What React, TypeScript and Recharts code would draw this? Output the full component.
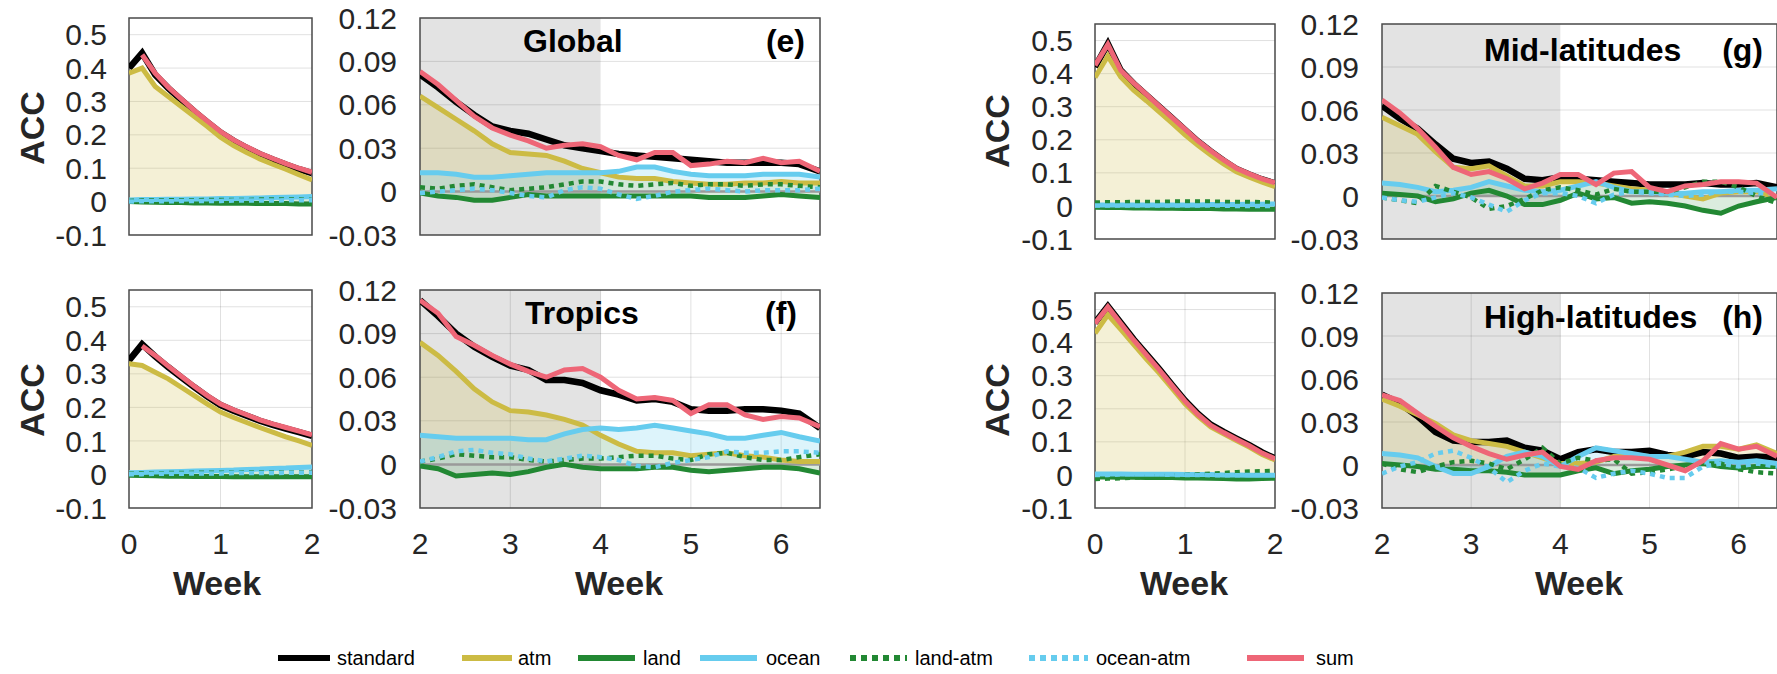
import React from 'react';
import { ComposedChart, Line, Area, XAxis, YAxis, CartesianGrid, ReferenceArea, ReferenceLine } from 'recharts';

const FONT = '"Liberation Sans", Arial, Helvetica, sans-serif';

// ---------- axes ----------
const LEFT_WEEKS = [0, 0.143, 0.286, 0.429, 0.571, 0.714, 0.857, 1.0, 1.143, 1.286, 1.429, 1.571, 1.714, 1.857, 2.0];
const RIGHT_WEEKS = [2.0, 2.2, 2.4, 2.6, 2.8, 3.0, 3.2, 3.4, 3.6, 3.8, 4.0, 4.2, 4.4, 4.6, 4.8, 5.0, 5.2, 5.4, 5.6, 5.8, 6.0, 6.2, 6.43];
const LEFT_X_TICKS = [0, 1, 2];
const RIGHT_X_TICKS = [2, 3, 4, 5, 6];
const LEFT_Y_TICKS = [-0.1, 0, 0.1, 0.2, 0.3, 0.4, 0.5];
const RIGHT_Y_TICKS = [-0.03, 0, 0.03, 0.06, 0.09, 0.12];
const LEFT_X_DOMAIN = [0, 2];
const RIGHT_X_DOMAIN = [2, 6.43];
const LEFT_Y_DOMAIN = [-0.1, 0.55];
const RIGHT_Y_DOMAIN = [-0.03, 0.12];
const SHADE_WEEKS = [2, 4];

const SERIES_NAMES = ['standard', 'atm', 'land', 'ocean', 'land-atm', 'ocean-atm', 'sum'];
const KEYS = ['standard', 'atm', 'land', 'ocean', 'landAtm', 'oceanAtm', 'sum'];
const COLORS = ['#000000', '#CCBB44', '#228833', '#66CCEE', '#228833', '#66CCEE', '#EE6677'];

// ---------- Global ----------
const GLOBAL_L_STANDARD = [0.400, 0.445, 0.380, 0.340, 0.305, 0.270, 0.238, 0.207, 0.182, 0.161, 0.142, 0.126, 0.111, 0.097, 0.085];
const GLOBAL_L_ATM = [0.385, 0.400, 0.345, 0.315, 0.285, 0.255, 0.225, 0.193, 0.168, 0.147, 0.128, 0.112, 0.097, 0.081, 0.065];
const GLOBAL_L_LAND = [0.000, -0.001, -0.002, -0.003, -0.003, -0.004, -0.004, -0.005, -0.005, -0.005, -0.006, -0.006, -0.006, -0.007, -0.007];
const GLOBAL_L_OCEAN = [0.005, 0.006, 0.006, 0.007, 0.007, 0.008, 0.008, 0.009, 0.009, 0.010, 0.011, 0.012, 0.013, 0.014, 0.015];
const GLOBAL_L_LANDATM = [0.002, 0.003, 0.003, 0.004, 0.004, 0.004, 0.005, 0.005, 0.005, 0.005, 0.006, 0.006, 0.006, 0.006, 0.005];
const GLOBAL_L_OCEANATM = [0.000, 0.001, 0.001, 0.001, 0.002, 0.002, 0.002, 0.002, 0.003, 0.003, 0.003, 0.003, 0.004, 0.004, 0.004];
const GLOBAL_L_SUM = [null, 0.440, 0.385, 0.343, 0.308, 0.273, 0.241, 0.210, 0.185, 0.164, 0.145, 0.129, 0.114, 0.100, 0.088];

const GLOBAL_R_STANDARD = [0.081, 0.072, 0.062, 0.053, 0.045, 0.042, 0.040, 0.036, 0.032, 0.030, 0.028, 0.026, 0.025, 0.024, 0.023, 0.022, 0.021, 0.020, 0.020, 0.020, 0.020, 0.019, 0.014];
const GLOBAL_R_ATM = [0.066, 0.058, 0.050, 0.042, 0.033, 0.027, 0.026, 0.025, 0.021, 0.016, 0.013, 0.010, 0.009, 0.009, 0.007, 0.006, 0.005, 0.005, 0.006, 0.006, 0.007, 0.006, 0.006];
const GLOBAL_R_LAND = [-0.001, -0.003, -0.004, -0.006, -0.006, -0.004, -0.002, -0.003, -0.003, -0.003, -0.003, -0.003, -0.003, -0.003, -0.003, -0.003, -0.004, -0.004, -0.004, -0.003, -0.002, -0.003, -0.004];
const GLOBAL_R_OCEAN = [0.013, 0.013, 0.012, 0.010, 0.010, 0.011, 0.012, 0.013, 0.013, 0.013, 0.013, 0.014, 0.017, 0.017, 0.014, 0.012, 0.011, 0.011, 0.011, 0.012, 0.012, 0.012, 0.010];
const GLOBAL_R_LANDATM = [0.003, 0.002, 0.004, 0.005, 0.003, 0.001, 0.002, 0.003, 0.005, 0.007, 0.007, 0.005, 0.004, 0.005, 0.006, 0.004, 0.005, 0.005, 0.004, 0.005, 0.005, 0.004, 0.003];
const GLOBAL_R_OCEANATM = [-0.001, 0.000, 0.001, 0.002, 0.001, -0.001, -0.003, -0.004, 0.001, 0.003, 0.002, -0.002, -0.005, -0.003, 0.000, 0.001, 0.002, 0.001, 0.000, 0.001, 0.001, 0.001, 0.002];
const GLOBAL_R_SUM = [0.083, 0.074, 0.063, 0.052, 0.044, 0.039, 0.035, 0.030, 0.032, 0.033, 0.031, 0.025, 0.022, 0.027, 0.027, 0.018, 0.019, 0.021, 0.020, 0.023, 0.020, 0.021, 0.014];

// ---------- Tropics ----------
const TROPICS_L_STANDARD = [0.340, 0.388, 0.352, 0.320, 0.290, 0.260, 0.232, 0.207, 0.190, 0.175, 0.160, 0.148, 0.137, 0.126, 0.115];
const TROPICS_L_ATM = [0.330, 0.325, 0.305, 0.285, 0.260, 0.235, 0.210, 0.186, 0.170, 0.155, 0.140, 0.126, 0.112, 0.100, 0.087];
const TROPICS_L_LAND = [-0.002, -0.003, -0.004, -0.005, -0.005, -0.006, -0.006, -0.006, -0.007, -0.007, -0.007, -0.007, -0.007, -0.007, -0.007];
const TROPICS_L_OCEAN = [0.005, 0.006, 0.007, 0.008, 0.009, 0.010, 0.011, 0.012, 0.013, 0.015, 0.016, 0.018, 0.019, 0.021, 0.022];
const TROPICS_L_LANDATM = [0.002, 0.003, 0.003, 0.004, 0.004, 0.005, 0.005, 0.005, 0.005, 0.006, 0.006, 0.006, 0.006, 0.006, 0.006];
const TROPICS_L_OCEANATM = [0.001, 0.001, 0.002, 0.002, 0.002, 0.003, 0.003, 0.003, 0.004, 0.004, 0.004, 0.004, 0.005, 0.005, 0.005];
const TROPICS_L_SUM = [null, 0.383, 0.355, 0.323, 0.293, 0.263, 0.235, 0.210, 0.193, 0.178, 0.163, 0.151, 0.140, 0.129, 0.118];

const TROPICS_R_STANDARD = [0.113, 0.102, 0.090, 0.081, 0.074, 0.068, 0.065, 0.058, 0.058, 0.056, 0.051, 0.048, 0.044, 0.045, 0.043, 0.038, 0.037, 0.037, 0.038, 0.038, 0.037, 0.035, 0.025];
const TROPICS_R_ATM = [0.084, 0.075, 0.064, 0.052, 0.043, 0.037, 0.036, 0.034, 0.031, 0.027, 0.020, 0.014, 0.009, 0.008, 0.008, 0.006, 0.007, 0.008, 0.006, 0.005, 0.003, 0.002, 0.002];
const TROPICS_R_LAND = [-0.001, -0.003, -0.008, -0.007, -0.006, -0.007, -0.005, -0.002, 0.000, -0.002, -0.003, -0.003, -0.003, -0.002, -0.002, -0.004, -0.005, -0.004, -0.003, -0.002, -0.002, -0.003, -0.006];
const TROPICS_R_OCEAN = [0.020, 0.019, 0.018, 0.018, 0.018, 0.018, 0.017, 0.017, 0.021, 0.024, 0.025, 0.024, 0.025, 0.027, 0.025, 0.023, 0.021, 0.018, 0.018, 0.020, 0.022, 0.019, 0.016];
const TROPICS_R_LANDATM = [0.002, 0.004, 0.007, 0.006, 0.005, 0.005, 0.003, 0.002, 0.003, 0.004, 0.004, 0.005, 0.006, 0.006, 0.004, 0.003, 0.007, 0.008, 0.005, 0.003, 0.003, 0.005, 0.007];
const TROPICS_R_OCEANATM = [0.002, 0.005, 0.009, 0.010, 0.008, 0.007, 0.004, 0.002, 0.004, 0.006, 0.005, 0.003, -0.001, -0.002, 0.001, 0.003, 0.005, 0.009, 0.008, 0.008, 0.009, 0.009, 0.008];
const TROPICS_R_SUM = [0.113, 0.104, 0.088, 0.082, 0.075, 0.069, 0.064, 0.060, 0.065, 0.066, 0.060, 0.051, 0.045, 0.046, 0.044, 0.035, 0.041, 0.041, 0.034, 0.031, 0.033, 0.032, 0.026];

// ---------- Mid-latitudes ----------
const MID_L_STANDARD = [0.420, 0.490, 0.410, 0.370, 0.335, 0.300, 0.265, 0.230, 0.195, 0.165, 0.137, 0.112, 0.095, 0.080, 0.068];
const MID_L_ATM = [0.388, 0.453, 0.390, 0.350, 0.318, 0.284, 0.250, 0.215, 0.183, 0.154, 0.127, 0.103, 0.087, 0.072, 0.058];
const MID_L_LAND = [-0.004, -0.005, -0.005, -0.006, -0.006, -0.007, -0.007, -0.008, -0.008, -0.008, -0.009, -0.009, -0.010, -0.010, -0.010];
const MID_L_OCEAN = [0.003, 0.003, 0.003, 0.003, 0.003, 0.003, 0.003, 0.003, 0.003, 0.004, 0.004, 0.004, 0.005, 0.005, 0.006];
const MID_L_LANDATM = [0.010, 0.011, 0.011, 0.012, 0.012, 0.012, 0.013, 0.013, 0.013, 0.013, 0.012, 0.012, 0.012, 0.011, 0.010];
const MID_L_OCEANATM = [0.001, 0.001, 0.001, 0.001, 0.001, 0.001, 0.001, 0.001, 0.001, 0.001, 0.001, 0.000, 0.000, 0.000, 0.000];
const MID_L_SUM = [0.425, 0.488, 0.410, 0.372, 0.337, 0.302, 0.267, 0.232, 0.197, 0.167, 0.139, 0.114, 0.097, 0.082, 0.070];

const MID_R_STANDARD = [0.063, 0.054, 0.047, 0.036, 0.026, 0.023, 0.024, 0.019, 0.012, 0.011, 0.013, 0.012, 0.011, 0.010, 0.009, 0.008, 0.008, 0.008, 0.009, 0.008, 0.008, 0.009, 0.006];
const MID_R_ATM = [0.055, 0.049, 0.043, 0.031, 0.020, 0.019, 0.021, 0.014, 0.007, 0.007, 0.010, 0.010, 0.009, 0.007, 0.005, 0.004, 0.002, 0.000, -0.002, 0.002, 0.003, 0.003, -0.001];
const MID_R_LAND = [0.002, 0.001, 0.000, -0.004, -0.002, 0.002, 0.004, 0.000, -0.006, -0.006, -0.003, 0.002, -0.002, -0.001, -0.005, -0.004, -0.005, -0.007, -0.010, -0.012, -0.007, -0.004, -0.001];
const MID_R_OCEAN = [0.009, 0.008, 0.006, 0.003, 0.004, 0.006, 0.010, 0.007, 0.004, 0.003, 0.004, 0.007, 0.010, 0.006, 0.003, 0.003, 0.002, 0.002, 0.003, 0.003, 0.004, 0.004, 0.005];
const MID_R_LANDATM = [-0.001, -0.003, -0.005, 0.007, 0.003, -0.001, -0.009, -0.007, -0.002, 0.004, 0.006, 0.004, 0.001, 0.005, 0.003, 0.003, 0.003, 0.006, 0.010, 0.010, 0.006, 0.000, -0.005];
const MID_R_OCEANATM = [-0.001, -0.003, -0.004, -0.001, 0.002, -0.001, -0.006, -0.011, -0.003, 0.002, 0.002, 0.000, -0.005, 0.001, 0.003, 0.002, 0.001, 0.000, 0.001, 0.003, 0.003, 0.002, 0.002];
const MID_R_SUM = [0.067, 0.058, 0.047, 0.034, 0.020, 0.015, 0.017, 0.012, 0.005, 0.009, 0.015, 0.015, 0.008, 0.016, 0.017, 0.006, 0.003, 0.007, 0.008, 0.010, 0.010, 0.009, -0.001];

// ---------- High-latitudes ----------
const HIGH_L_STANDARD = [0.460, 0.510, 0.460, 0.410, 0.365, 0.320, 0.272, 0.225, 0.185, 0.152, 0.130, 0.110, 0.090, 0.068, 0.050];
const HIGH_L_ATM = [0.428, 0.484, 0.440, 0.395, 0.350, 0.308, 0.262, 0.215, 0.178, 0.145, 0.124, 0.104, 0.084, 0.062, 0.045];
const HIGH_L_LAND = [-0.006, -0.006, -0.007, -0.007, -0.008, -0.008, -0.008, -0.009, -0.009, -0.010, -0.011, -0.012, -0.012, -0.011, -0.010];
const HIGH_L_OCEAN = [0.003, 0.003, 0.003, 0.002, 0.002, 0.002, 0.002, 0.001, 0.001, 0.001, 0.000, 0.000, -0.001, -0.001, -0.001];
const HIGH_L_LANDATM = [-0.012, -0.011, -0.010, -0.008, -0.006, -0.004, -0.002, 0.000, 0.002, 0.004, 0.006, 0.008, 0.010, 0.011, 0.012];
const HIGH_L_OCEANATM = [0.000, 0.000, 0.001, 0.001, 0.001, 0.001, 0.000, 0.000, 0.000, -0.001, -0.001, -0.001, 0.000, 0.000, 0.000];
const HIGH_L_SUM = [0.458, 0.508, 0.458, 0.408, 0.363, 0.318, 0.270, 0.223, 0.183, 0.150, 0.128, 0.108, 0.088, 0.066, 0.049];

const HIGH_R_STANDARD = [0.049, 0.043, 0.034, 0.023, 0.017, 0.016, 0.016, 0.017, 0.012, 0.010, 0.004, 0.009, 0.011, 0.009, 0.009, 0.010, 0.007, 0.006, 0.009, 0.008, 0.005, 0.006, 0.005];
const HIGH_R_ATM = [0.046, 0.041, 0.035, 0.029, 0.021, 0.017, 0.015, 0.013, 0.009, 0.005, 0.001, 0.001, 0.002, 0.006, 0.007, 0.006, 0.006, 0.009, 0.013, 0.013, 0.011, 0.014, 0.008];
const HIGH_R_LAND = [0.001, 0.000, -0.001, -0.003, -0.003, -0.004, -0.004, -0.005, -0.007, -0.007, -0.007, -0.004, -0.002, -0.006, -0.004, -0.003, -0.001, 0.000, 0.001, -0.001, -0.002, -0.001, -0.001];
const HIGH_R_OCEAN = [0.008, 0.007, 0.005, -0.001, -0.006, -0.006, -0.001, 0.006, 0.009, 0.006, -0.001, 0.006, 0.012, 0.010, 0.008, 0.006, 0.006, 0.004, 0.002, 0.003, 0.002, 0.003, 0.001];
const HIGH_R_LANDATM = [0.001, -0.003, -0.005, -0.001, 0.002, 0.003, 0.001, -0.003, 0.004, 0.012, 0.001, 0.005, 0.003, 0.004, -0.006, -0.005, -0.003, -0.001, 0.001, 0.001, -0.003, -0.005, -0.006];
const HIGH_R_OCEANATM = [-0.006, -0.001, 0.002, 0.008, 0.010, 0.005, -0.002, -0.012, -0.004, 0.001, -0.001, -0.002, -0.009, -0.006, -0.004, -0.006, -0.009, -0.009, -0.001, 0.001, -0.001, 0.001, -0.001];
const HIGH_R_SUM = [0.049, 0.045, 0.036, 0.027, 0.019, 0.013, 0.008, 0.004, 0.007, 0.009, -0.001, -0.003, 0.003, 0.005, 0.005, 0.004, 0.000, -0.004, 0.003, 0.015, 0.011, 0.013, 0.006];

// ---------- table builder ----------
function rows(weeks: number[], cols: (number | null)[][]) {
  return weeks.map((w, i) => {
    const r: any = { w };
    KEYS.forEach((k, j) => { r[k] = cols[j][i]; });
    return r;
  });
}

const DATA = {
  globalL: rows(LEFT_WEEKS, [GLOBAL_L_STANDARD, GLOBAL_L_ATM, GLOBAL_L_LAND, GLOBAL_L_OCEAN, GLOBAL_L_LANDATM, GLOBAL_L_OCEANATM, GLOBAL_L_SUM]),
  globalR: rows(RIGHT_WEEKS, [GLOBAL_R_STANDARD, GLOBAL_R_ATM, GLOBAL_R_LAND, GLOBAL_R_OCEAN, GLOBAL_R_LANDATM, GLOBAL_R_OCEANATM, GLOBAL_R_SUM]),
  tropicsL: rows(LEFT_WEEKS, [TROPICS_L_STANDARD, TROPICS_L_ATM, TROPICS_L_LAND, TROPICS_L_OCEAN, TROPICS_L_LANDATM, TROPICS_L_OCEANATM, TROPICS_L_SUM]),
  tropicsR: rows(RIGHT_WEEKS, [TROPICS_R_STANDARD, TROPICS_R_ATM, TROPICS_R_LAND, TROPICS_R_OCEAN, TROPICS_R_LANDATM, TROPICS_R_OCEANATM, TROPICS_R_SUM]),
  midL: rows(LEFT_WEEKS, [MID_L_STANDARD, MID_L_ATM, MID_L_LAND, MID_L_OCEAN, MID_L_LANDATM, MID_L_OCEANATM, MID_L_SUM]),
  midR: rows(RIGHT_WEEKS, [MID_R_STANDARD, MID_R_ATM, MID_R_LAND, MID_R_OCEAN, MID_R_LANDATM, MID_R_OCEANATM, MID_R_SUM]),
  highL: rows(LEFT_WEEKS, [HIGH_L_STANDARD, HIGH_L_ATM, HIGH_L_LAND, HIGH_L_OCEAN, HIGH_L_LANDATM, HIGH_L_OCEANATM, HIGH_L_SUM]),
  highR: rows(RIGHT_WEEKS, [HIGH_R_STANDARD, HIGH_R_ATM, HIGH_R_LAND, HIGH_R_OCEAN, HIGH_R_LANDATM, HIGH_R_OCEANATM, HIGH_R_SUM]),
};

const TICK_STYLE = { fontSize: 30, fill: '#262626', fontFamily: FONT };

function Panel({ x, y, w, h, data, side, showX }: any) {
  const left = side === 'L';
  const yW = 110;
  const mT = 22;
  const mR = 22;
  const mB = showX ? 0 : 22;
  const xH = showX ? 60 : 0;
  const xDomain = left ? LEFT_X_DOMAIN : RIGHT_X_DOMAIN;
  const yDomain = left ? LEFT_Y_DOMAIN : RIGHT_Y_DOMAIN;
  return (
    <div style={{ position: 'absolute', left: x - yW, top: y - mT }}>
      <ComposedChart width={yW + w + mR} height={mT + h + xH + mB} data={data} margin={{ top: mT, right: mR, bottom: mB, left: 0 }}>
        {!left && (
          <ReferenceArea x1={SHADE_WEEKS[0]} x2={SHADE_WEEKS[1]} y1={yDomain[0]} y2={yDomain[1]} fill="#000" fillOpacity={0.11} stroke="none" />
        )}
        <CartesianGrid stroke="#000" strokeOpacity={0.12} />
        <XAxis
          type="number" dataKey="w" domain={xDomain} ticks={left ? LEFT_X_TICKS : RIGHT_X_TICKS}
          allowDataOverflow axisLine={false} tickLine={false} tickSize={0} tickMargin={25}
          height={xH} interval={0} tick={showX ? TICK_STYLE : false}
        />
        <YAxis
          type="number" domain={yDomain} ticks={left ? LEFT_Y_TICKS : RIGHT_Y_TICKS}
          allowDataOverflow axisLine={false} tickLine={false} tickSize={0} tickMargin={left ? 22 : 23}
          width={yW} interval={0} tick={TICK_STYLE} tickFormatter={(v: number) => String(v)}
        />
        {!left && <ReferenceLine y={0} stroke="#9a9a9a" strokeWidth={2.5} />}
        <Area type="linear" dataKey="atm" baseValue={0} fill={COLORS[1]} fillOpacity={0.22} stroke="none" dot={false} activeDot={false} isAnimationActive={false} />
        <Area type="linear" dataKey="ocean" baseValue={0} fill={COLORS[3]} fillOpacity={0.22} stroke="none" dot={false} activeDot={false} isAnimationActive={false} />
        <Area type="linear" dataKey="land" baseValue={0} fill={COLORS[2]} fillOpacity={0.16} stroke="none" dot={false} activeDot={false} isAnimationActive={false} />
        <Line type="linear" dataKey="standard" stroke={COLORS[0]} strokeWidth={6.5} dot={false} activeDot={false} isAnimationActive={false} />
        <Line type="linear" dataKey="atm" stroke={COLORS[1]} strokeWidth={5} dot={false} activeDot={false} isAnimationActive={false} />
        <Line type="linear" dataKey="land" stroke={COLORS[2]} strokeWidth={5} dot={false} activeDot={false} isAnimationActive={false} />
        <Line type="linear" dataKey="ocean" stroke={COLORS[3]} strokeWidth={5} dot={false} activeDot={false} isAnimationActive={false} />
        <Line type="linear" dataKey="landAtm" stroke={COLORS[4]} strokeWidth={4.5} strokeDasharray="5 5" dot={false} activeDot={false} isAnimationActive={false} />
        <Line type="linear" dataKey="oceanAtm" stroke={COLORS[5]} strokeWidth={4.5} strokeDasharray="5 5" dot={false} activeDot={false} isAnimationActive={false} />
        <Line type="linear" dataKey="sum" stroke={COLORS[6]} strokeWidth={5} dot={false} activeDot={false} isAnimationActive={false} />
        <ReferenceArea x1={xDomain[0]} x2={xDomain[1]} y1={yDomain[0]} y2={yDomain[1]} fill="none" stroke="#4d4d4d" strokeWidth={1.5} />
      </ComposedChart>
    </div>
  );
}

const LEGEND_ITEMS = [
  { x1: 278, x2: 330, tx: 337 },
  { x1: 462, x2: 512, tx: 518 },
  { x1: 578, x2: 635, tx: 643 },
  { x1: 700, x2: 757, tx: 766 },
  { x1: 850, x2: 907, tx: 915 },
  { x1: 1029, x2: 1088, tx: 1096 },
  { x1: 1247, x2: 1304, tx: 1316 },
];

export default function App() {
  const bold = { fontFamily: FONT, fontWeight: 700, fill: '#000' } as any;
  const axisLbl = { fontFamily: FONT, fontWeight: 700, fill: '#262626', fontSize: 34 } as any;
  return (
    <div style={{ position: 'absolute', left: 0, top: 0, width: 1777, height: 674, overflow: 'hidden', background: '#fff' }}>
      <Panel x={129} y={18} w={183} h={217} data={DATA.globalL} side="L" showX={false} />
      <Panel x={420} y={18} w={400} h={217} data={DATA.globalR} side="R" showX={false} />
      <Panel x={129} y={290} w={183} h={218} data={DATA.tropicsL} side="L" showX={true} />
      <Panel x={420} y={290} w={400} h={218} data={DATA.tropicsR} side="R" showX={true} />
      <Panel x={1095} y={24} w={180} h={215} data={DATA.midL} side="L" showX={false} />
      <Panel x={1382} y={24} w={395} h={215} data={DATA.midR} side="R" showX={false} />
      <Panel x={1095} y={293} w={180} h={215} data={DATA.highL} side="L" showX={true} />
      <Panel x={1382} y={293} w={395} h={215} data={DATA.highR} side="R" showX={true} />

      <svg width={1777} height={674} style={{ position: 'absolute', left: 0, top: 0, pointerEvents: 'none' }}>
        <text transform="translate(44,128) rotate(-90)" textAnchor="middle" {...axisLbl}>ACC</text>
        <text transform="translate(44,400) rotate(-90)" textAnchor="middle" {...axisLbl}>ACC</text>
        <text transform="translate(1009,131) rotate(-90)" textAnchor="middle" {...axisLbl}>ACC</text>
        <text transform="translate(1009,400) rotate(-90)" textAnchor="middle" {...axisLbl}>ACC</text>

        <text x={217} y={595} textAnchor="middle" {...axisLbl}>Week</text>
        <text x={619} y={595} textAnchor="middle" {...axisLbl}>Week</text>
        <text x={1184} y={595} textAnchor="middle" {...axisLbl}>Week</text>
        <text x={1579} y={595} textAnchor="middle" {...axisLbl}>Week</text>

        <text x={523} y={52} fontSize={32} {...bold}>Global</text>
        <text x={805} y={52} fontSize={32} textAnchor="end" {...bold}>(e)</text>
        <text x={525} y={324} fontSize={32} {...bold}>Tropics</text>
        <text x={797} y={324} fontSize={32} textAnchor="end" {...bold}>(f)</text>
        <text x={1484} y={61} fontSize={32} {...bold}>Mid-latitudes</text>
        <text x={1763} y={61} fontSize={32} textAnchor="end" {...bold}>(g)</text>
        <text x={1484} y={328} fontSize={32} {...bold}>High-latitudes</text>
        <text x={1763} y={328} fontSize={32} textAnchor="end" {...bold}>(h)</text>

        {LEGEND_ITEMS.map((it, i) => (
          <g key={SERIES_NAMES[i]}>
            <line x1={it.x1} x2={it.x2} y1={658} y2={658} stroke={COLORS[i]} strokeWidth={6}
              strokeDasharray={i === 4 || i === 5 ? '6 5' : undefined} />
            <text x={it.tx} y={665} fontSize={20} fontFamily={FONT} fill="#000">{SERIES_NAMES[i]}</text>
          </g>
        ))}
      </svg>
    </div>
  );
}
